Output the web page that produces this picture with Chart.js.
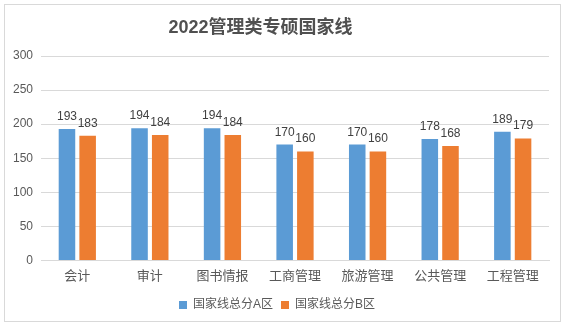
<!DOCTYPE html>
<html>
<head>
<meta charset="utf-8">
<script src="https://cdn.jsdelivr.net/npm/chart.js@4.4.0/dist/chart.umd.min.js"></script>
<style>
  body { margin: 0; background: #fff; }
  #box {
    position: absolute; left: 4px; top: 4px;
    width: 557px; height: 318px;
    box-sizing: border-box;
    border: 1px solid #d9d9d9;
    background: #fff;
  }
</style>
</head>
<body>
<div id="box"><canvas id="chart"></canvas></div>
<script>
const categories = ['会计', '审计', '图书情报', '工商管理', '旅游管理', '公共管理', '工程管理'];
const scoreA = [193, 194, 194, 170, 170, 178, 189];
const scoreB = [183, 184, 184, 160, 160, 168, 179];
const seriesNames = ['国家线总分A区', '国家线总分B区'];
const chartTitle = '2022管理类专硕国家线';

const fontStack = '"Liberation Sans", "Noto Sans CJK SC", sans-serif';

// value labels over each bar
const barLabels = {
  id: 'barLabels',
  afterDatasetsDraw(chart) {
    const ctx = chart.ctx;
    ctx.save();
    ctx.font = '12px ' + fontStack;
    ctx.fillStyle = '#404040';
    ctx.textAlign = 'center';
    ctx.textBaseline = 'alphabetic';
    chart.data.datasets.forEach((ds, i) => {
      chart.getDatasetMeta(i).data.forEach((bar, j) => {
        ctx.fillText(ds.data[j], bar.x, bar.y - 9);
      });
    });
    ctx.restore();
  }
};

// heading drawn a bit left of centre
const heading = {
  id: 'heading',
  afterDraw(chart) {
    const ctx = chart.ctx;
    ctx.save();
    ctx.font = 'bold 18px ' + fontStack;
    ctx.fillStyle = '#505050';
    ctx.textAlign = 'center';
    ctx.textBaseline = 'middle';
    ctx.fillText(chartTitle, chart.width / 2 - 22, 23);
    ctx.restore();
  }
};

new Chart(document.getElementById('chart'), {
  type: 'bar',
  data: {
    labels: categories,
    datasets: [{
      label: seriesNames[0],
      data: scoreA,
      backgroundColor: '#5b9bd5',
      categoryPercentage: 0.57,
      barPercentage: 0.8
    }, {
      label: seriesNames[1],
      data: scoreB,
      backgroundColor: '#ed7d31',
      categoryPercentage: 0.57,
      barPercentage: 0.8
    }]
  },
  options: {
    responsive: true,
    maintainAspectRatio: false,
    animation: false,
    layout: {
      padding: { top: 51, right: 11, left: 0, bottom: 0 }
    },
    plugins: {
      title: { display: false },
      tooltip: { enabled: false },
      legend: {
        position: 'bottom',
        labels: {
          boxWidth: 8,
          boxHeight: 8,
          padding: 8,
          color: '#595959',
          font: { size: 12, family: fontStack }
        }
      }
    },
    scales: {
      x: {
        grid: { display: false },
        border: { display: true, color: '#d9d9d9' },
        ticks: {
          color: '#595959',
          padding: 0,
          font: { size: 13, family: fontStack }
        },
        // leave extra room between the category labels and the legend
        afterFit(scale) {
          scale.height += 7;
        }
      },
      y: {
        min: 0,
        max: 300,
        grid: { color: '#d9d9d9', drawTicks: false },
        border: { display: false },
        ticks: {
          stepSize: 50,
          padding: 8,
          color: '#595959',
          font: { size: 12, family: fontStack }
        }
      }
    }
  },
  plugins: [barLabels, heading]
});
</script>
</body>
</html>
